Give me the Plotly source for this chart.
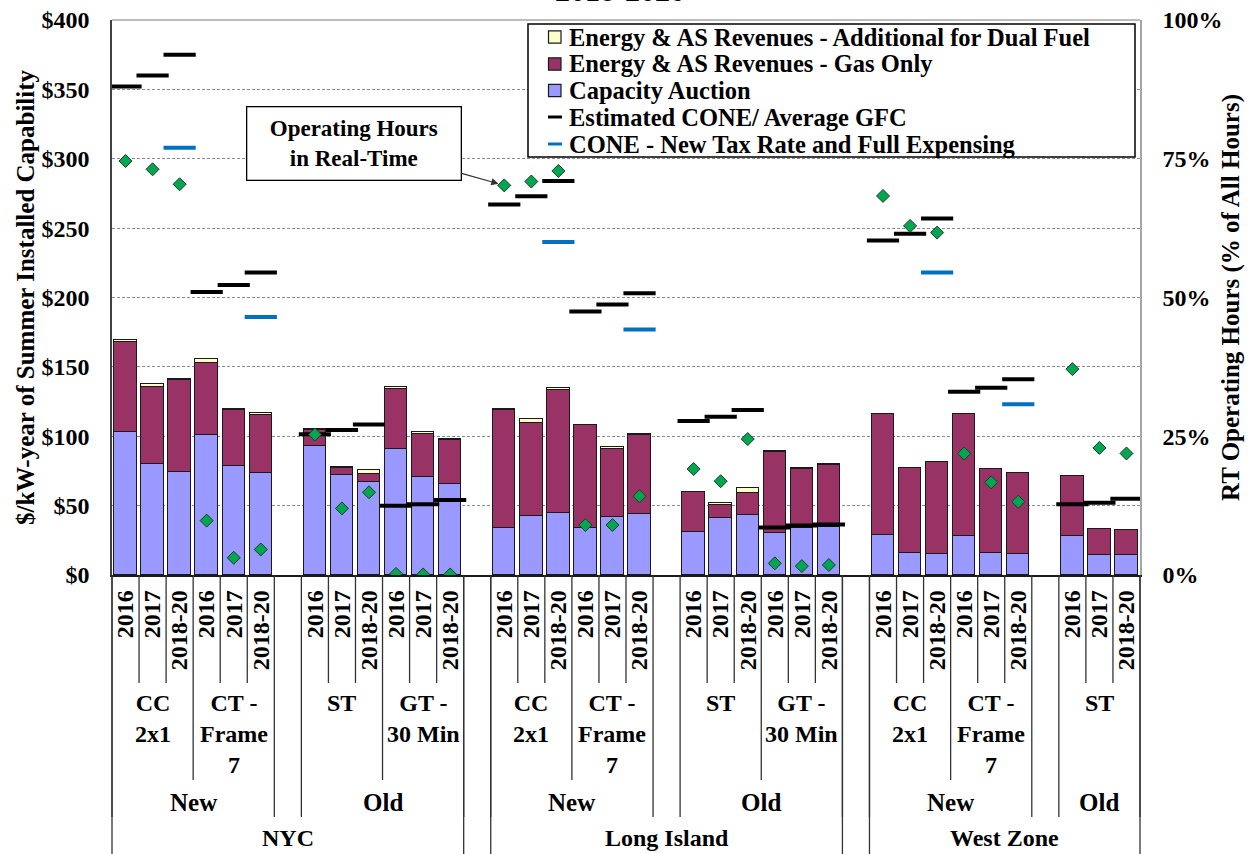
import plotly.graph_objects as go

# ---------------- data ----------------
YEARS = ["2016", "2017", "2018-20"]
group_region = ["NYC", "NYC", "NYC", "NYC",
                "Long Island", "Long Island", "Long Island", "Long Island",
                "West Zone", "West Zone", "West Zone"]
group_age = ["New", "New", "Old", "Old",
             "New", "New", "Old", "Old",
             "New", "New", "Old"]
group_unit = ["CC<br>2x1", "CT -<br>Frame<br>7", "ST", "GT -<br>30 Min",
              "CC<br>2x1", "CT -<br>Frame<br>7", "ST", "GT -<br>30 Min",
              "CC<br>2x1", "CT -<br>Frame<br>7", "ST"]

capacity_auction = [103.0, 80.3, 74.2, 101.1, 78.3, 73.5,
                    92.9, 72.4, 67.3, 91.0, 70.7, 65.4,
                    34.0, 42.6, 44.8, 34.0, 41.9, 43.8,
                    31.1, 41.0, 42.9, 30.0, 33.6, 34.7,
                    28.7, 16.0, 15.1, 28.0, 16.0, 15.1,
                    28.0, 14.2, 14.2]
gas_only = [65.0, 55.0, 66.0, 52.0, 40.3, 41.5,
            11.5, 4.5, 5.8, 43.2, 31.1, 31.6,
            84.6, 67.1, 88.6, 73.8, 49.1, 56.8,
            28.5, 9.3, 16.5, 58.6, 42.6, 44.3,
            87.0, 61.4, 66.3, 87.7, 60.2, 58.4,
            43.4, 19.1, 18.1]
dual_fuel = [1.2, 2.5, 1.2, 2.4, 1.2, 2.0,
             1.0, 1.3, 2.3, 1.2, 1.2, 1.2,
             1.2, 2.4, 1.3, 0.0, 1.3, 1.3,
             0.0, 1.3, 3.0, 0.5, 1.2, 1.3,
             0.0, 0.0, 0.0, 0.0, 0.0, 0.0,
             0.0, 0.0, 0.0]
cone_gfc = [352, 360, 375, 204, 209, 218,
            101.5, 104.5, 108.5, 50, 51, 54,
            267, 273, 284, 190, 195, 203,
            111, 114, 119, 34.3, 35.7, 36.4,
            241, 246, 257, 132, 135, 141,
            51, 52, 55]
cone_new_tax = [None, None, 308, None, None, 186,
                None, None, None, None, None, None,
                None, None, 240, None, None, 177,
                None, None, None, None, None, None,
                None, None, 218, None, None, 123,
                None, None, None]
rt_hours_pct = [74.6, 73.1, 70.4, 9.8, 3.1, 4.6,
                25.3, 12.0, 14.9, 0.2, 0.1, 0.1,
                70.2, 70.9, 72.8, 9.0, 9.0, 14.2,
                19.1, 16.9, 24.5, 2.1, 1.6, 1.8,
                68.3, 62.9, 61.7, 21.9, 16.7, 13.2,
                37.1, 22.9, 21.9]

NAME_DUAL = "Energy & AS Revenues - Additional for Dual Fuel"
NAME_GAS = "Energy & AS Revenues - Gas Only"
NAME_CAP = "Capacity Auction"
NAME_CONE = "Estimated CONE/ Average GFC"
NAME_NEW = "CONE - New Tax Rate and Full Expensing"

# ---------------- layout helpers ----------------
FONT = "Liberation Serif, Times New Roman, serif"
C_CAP, C_GAS, C_DUAL = "#9999ff", "#993366", "#ffffcc"
C_GREEN, C_BLUE = "#00a650", "#0070c0"

W, H = 1250, 854
ML, MR, MT, MB = 112, 110, 20, 279
PLOT_W, PLOT_H = W - ML - MR, H - MT - MB

# positions: a blank slot between age groups / regions
xpos, tick_text, bar_group = [], [], []
slot = 0
prev_key = None
for g in range(len(group_unit)):
    key = (group_region[g], group_age[g])
    if prev_key is not None and key != prev_key:
        slot += 1
    prev_key = key
    for y in YEARS:
        xpos.append(slot)
        tick_text.append(y)
        bar_group.append(g)
        slot += 1
XMIN, XMAX = -0.5, slot - 0.5


def px(x):
    return (x - XMIN) / (XMAX - XMIN)


def py(pix_below):
    return -pix_below / PLOT_H


def xp(pix):
    return (pix - ML) / PLOT_W


def yp(pix):
    return (H - MB - pix) / PLOT_H


def bfont(size):
    return dict(family=FONT, size=size, color="black", weight="bold")


fig = go.Figure()
bar_line = dict(color="#1a1a1a", width=1.5)
fig.add_trace(go.Bar(x=xpos, y=capacity_auction, name=NAME_CAP,
                     marker=dict(color=C_CAP, line=bar_line), width=0.83))
fig.add_trace(go.Bar(x=xpos, y=gas_only, name=NAME_GAS,
                     marker=dict(color=C_GAS, line=bar_line), width=0.83))
fig.add_trace(go.Bar(x=xpos, y=dual_fuel, name=NAME_DUAL,
                     marker=dict(color=C_DUAL, line=bar_line), width=0.83))
fig.add_trace(go.Scatter(x=xpos, y=cone_gfc, mode="markers", name=NAME_CONE,
                         marker=dict(symbol="line-ew", size=23,
                                     line=dict(color="black", width=4))))
fig.add_trace(go.Scatter(x=xpos, y=cone_new_tax, mode="markers", name=NAME_NEW,
                         marker=dict(symbol="line-ew", size=23,
                                     line=dict(color=C_BLUE, width=4))))
fig.add_trace(go.Scatter(x=xpos, y=rt_hours_pct, mode="markers", yaxis="y2",
                         name="RT Operating Hours",
                         marker=dict(symbol="diamond", size=10, color=C_GREEN,
                                     line=dict(color="#1f3b2a", width=1))))

# ---------------- hierarchical category axis ----------------
shapes = []
annotations = []
LINE = dict(color="#333333", width=1.3)
n = len(xpos)
for i in range(n - 1):
    if bar_group[i] == bar_group[i + 1]:
        xb = px(xpos[i] + 0.5)
        shapes.append(dict(type="line", xref="paper", yref="paper",
                           x0=xb, x1=xb, y0=0, y1=py(108), line=LINE))
for g in range(len(group_unit) - 1):
    if (group_region[g], group_age[g]) == (group_region[g + 1], group_age[g + 1]):
        last = max(i for i in range(n) if bar_group[i] == g)
        xb = px(xpos[last] + 0.5)
        shapes.append(dict(type="line", xref="paper", yref="paper",
                           x0=xb, x1=xb, y0=0, y1=py(205), line=LINE))
age_keys, region_keys = [], []
for g in range(len(group_unit)):
    k = (group_region[g], group_age[g])
    if k not in age_keys:
        age_keys.append(k)
    if group_region[g] not in region_keys:
        region_keys.append(group_region[g])
for k in age_keys:
    idx = [i for i in range(n) if (group_region[bar_group[i]], group_age[bar_group[i]]) == k]
    for xb in (px(xpos[idx[0]] - 0.5), px(xpos[idx[-1]] + 0.5)):
        shapes.append(dict(type="line", xref="paper", yref="paper",
                           x0=xb, x1=xb, y0=0, y1=py(242), line=LINE))
    annotations.append(dict(x=(xpos[idx[0]] + xpos[idx[-1]]) / 2, xref="x",
                            y=py(227), yref="paper", yanchor="middle",
                            text=k[1], showarrow=False, font=bfont(25)))
for r in region_keys:
    idx = [i for i in range(n) if group_region[bar_group[i]] == r]
    for xb in (px(xpos[idx[0]] - 0.5), px(xpos[idx[-1]] + 0.5)):
        shapes.append(dict(type="line", xref="paper", yref="paper",
                           x0=xb, x1=xb, y0=0, y1=py(300), line=LINE))
    annotations.append(dict(x=(xpos[idx[0]] + xpos[idx[-1]]) / 2, xref="x",
                            y=py(263), yref="paper", yanchor="middle",
                            text=r, showarrow=False, font=bfont(24)))
for g in range(len(group_unit)):
    idx = [i for i in range(n) if bar_group[i] == g]
    annotations.append(dict(x=(xpos[idx[0]] + xpos[idx[-1]]) / 2, xref="x",
                            y=py(113), yref="paper", yanchor="top",
                            text=group_unit[g], showarrow=False, font=bfont(24)))

# top border of plot area
shapes.append(dict(type="line", xref="paper", yref="paper", x0=0, x1=1, y0=1, y1=1,
                   line=dict(color="#a6a6a6", width=1.5)))

# ---------------- legend box (Excel style, tight rows) ----------------
legend_items = [(NAME_DUAL, "square", C_DUAL), (NAME_GAS, "square", C_GAS),
                (NAME_CAP, "square", C_CAP), (NAME_CONE, "dash", "black"),
                (NAME_NEW, "dash", C_BLUE)]
row_y = [37, 64, 90.5, 117, 144]
shapes.append(dict(type="rect", xref="paper", yref="paper", layer="above",
                   x0=xp(528), x1=xp(1135), y0=yp(157), y1=yp(24),
                   fillcolor="white", line=dict(color="black", width=1.5)))
for (name, kind, color), cy in zip(legend_items, row_y):
    if kind == "square":
        shapes.append(dict(type="rect", xref="paper", yref="paper", layer="above",
                           x0=xp(548.5), x1=xp(561), y0=yp(cy + 6.2), y1=yp(cy - 6.2),
                           fillcolor=color, line=dict(color="#1a1a1a", width=1.2)))
    else:
        shapes.append(dict(type="line", xref="paper", yref="paper", layer="above",
                           x0=xp(548), x1=xp(562), y0=yp(cy), y1=yp(cy),
                           line=dict(color=color, width=3)))
    annotations.append(dict(x=xp(567), y=yp(cy), xref="paper", yref="paper",
                            xanchor="left", yanchor="middle", text=name,
                            showarrow=False, font=bfont(24.5)))

# callout
annotations.append(dict(x=xpos[12], y=rt_hours_pct[12], xref="x", yref="y2",
                        text="Operating Hours<br>in Real-Time", showarrow=True,
                        ax=-150, ay=-42, arrowhead=2, arrowsize=1.2, arrowwidth=1.2,
                        arrowcolor="#333333", standoff=6,
                        bgcolor="white", bordercolor="black", borderwidth=1.3,
                        borderpad=4, width=205, height=64, font=bfont(23)))
# cut-off title remnant (only its lower edge shows in the reference)
annotations.append(dict(x=0.494, y=1.0195, xref="paper", yref="paper", yanchor="bottom",
                        text="2018-2020", showarrow=False, font=bfont(30)))

fig.update_layout(
    width=W, height=H,
    margin=dict(l=ML, r=MR, t=MT, b=MB, autoexpand=False),
    barmode="stack", bargap=0, showlegend=False,
    plot_bgcolor="white", paper_bgcolor="white",
    font=bfont(24),
    xaxis=dict(range=[XMIN, XMAX], tickmode="array", tickvals=xpos, ticktext=tick_text,
               tickangle=-90, ticks="", showgrid=False, zeroline=False,
               showline=True, linecolor="#1a1a1a", linewidth=1.5,
               ticklabelstandoff=4, automargin=False, tickfont=bfont(24)),
    yaxis=dict(range=[0, 400], dtick=50, tickprefix="$", showgrid=True,
               gridcolor="#8c8c8c", griddash="3px,2px", gridwidth=1,
               zeroline=False, showline=True, linecolor="#404040", linewidth=1.5,
               ticks="", ticklabelstandoff=16, automargin=False, tickfont=bfont(24),
               title=dict(text="$/kW-year of Summer Installed Capability", standoff=0,
                          font=bfont(25))),
    yaxis2=dict(range=[0, 100], dtick=25, ticksuffix="%", overlaying="y", side="right",
                showgrid=False, zeroline=False, showline=True, linecolor="#a6a6a6",
                linewidth=1.5, ticks="", ticklabelstandoff=16, automargin=False,
                tickfont=bfont(24),
                title=dict(text="RT Operating Hours (% of All Hours)", standoff=0,
                           font=bfont(25))),
    shapes=shapes, annotations=annotations,
)

fig.write_html("out.html", config={"displayModeBar": False},
               post_script="document.body.style.margin='0px';"
                           "document.body.style.overflow='hidden';")
